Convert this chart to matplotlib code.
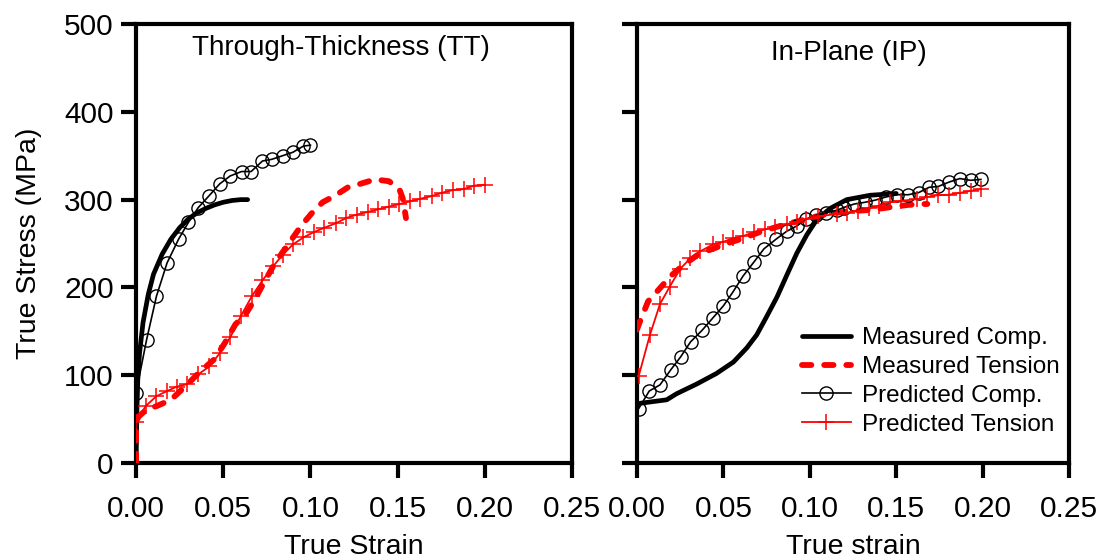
import matplotlib
matplotlib.use("Agg")
import matplotlib.pyplot as plt

plt.rcParams['font.family'] = ['Liberation Sans', 'DejaVu Sans']

# ---------------- Through-thickness (TT) ----------------
tt_meas_comp_strain = [0, 0.0005, 0.001, 0.002, 0.004, 0.007, 0.010, 0.015, 0.020,
                       0.025, 0.030, 0.035, 0.040, 0.045, 0.050, 0.055, 0.060, 0.064]
tt_meas_comp_stress = [0, 60, 95, 125, 160, 192, 215, 238, 255,
                       268, 278, 285, 290, 294, 297, 299, 300, 300]

tt_pred_comp_strain = [0, 0.006, 0.0117, 0.0178, 0.0244, 0.030, 0.0357, 0.0417, 0.048,
                       0.054, 0.0605, 0.066, 0.0725, 0.078, 0.084, 0.090, 0.096, 0.100]
tt_pred_comp_stress = [80, 140, 190, 228, 255, 274, 291, 304, 318,
                       327, 332, 332, 344, 346, 350, 354, 361, 362]

tt_meas_ten_strain = [0, 0, 0.001, 0.006, 0.012, 0.020, 0.0286, 0.0367, 0.0448, 0.051,
                      0.057, 0.063, 0.068, 0.0735, 0.0786, 0.084, 0.089, 0.095, 0.101,
                      0.107, 0.1145, 0.1215, 0.1286, 0.137, 0.145, 0.151, 0.153, 0.1548]
tt_meas_ten_stress = [0, 40, 52, 61, 65, 72, 88, 104, 118, 137,
                      158, 170, 186, 206, 224, 240, 254, 271, 285,
                      297, 305, 314, 318, 323, 321, 312, 301, 279]

tt_pred_ten_strain = [0, 0.0056, 0.0116, 0.0178, 0.0234, 0.0295, 0.0357, 0.042, 0.048,
                      0.054, 0.060, 0.0664, 0.0725, 0.0786, 0.084, 0.090, 0.096, 0.102,
                      0.108, 0.1145, 0.1205, 0.1267, 0.133, 0.139, 0.145, 0.151, 0.1573,
                      0.163, 0.1696, 0.1757, 0.182, 0.188, 0.194, 0.200]
tt_pred_ten_stress = [47, 65, 76, 82, 87, 90, 101, 110, 125,
                      143, 167, 190, 208, 224, 237, 249, 257, 263,
                      268, 273, 279, 283, 286, 289, 292, 295, 298,
                      301, 304, 308, 311, 312, 316, 317]

# ---------------- In-plane (IP) ----------------
ip_meas_comp_strain = [0, 0.0017, 0.0172, 0.023, 0.0346, 0.046, 0.0558, 0.0635, 0.0693,
                       0.0751, 0.081, 0.0867, 0.0925, 0.0983, 0.104, 0.1118, 0.1214,
                       0.135, 0.150]
ip_meas_comp_stress = [66, 68, 72, 79, 90, 102, 115, 131, 146,
                       167, 189, 214, 239, 260, 277, 290, 300,
                       305, 307]

ip_pred_comp_strain = [0.001, 0.0071, 0.0133, 0.0195, 0.0253, 0.031, 0.0376, 0.0438, 0.050,
                       0.0556, 0.0614, 0.0677, 0.0735, 0.0805, 0.0867, 0.0925, 0.098, 0.1035,
                       0.1096, 0.1157, 0.1196, 0.1257, 0.132, 0.138, 0.144, 0.1505, 0.157,
                       0.163, 0.169, 0.1743, 0.1806, 0.1868, 0.193, 0.199]
ip_pred_comp_stress = [62, 82, 89, 106, 121, 138, 151, 165, 179,
                       195, 213, 229, 244, 255, 264, 270, 278, 282,
                       285, 288, 291, 295, 297, 299.5, 303, 305.6, 305.6,
                       308, 314, 315, 320, 324, 322, 323]

ip_meas_ten_strain = [0, 0.0013, 0.0064, 0.0128, 0.0195, 0.0266, 0.0365, 0.044, 0.052,
                      0.0615, 0.071, 0.081, 0.0904, 0.104, 0.1135, 0.125, 0.133, 0.138,
                      0.1486, 0.157, 0.166, 0.168]
ip_meas_ten_stress = [152, 159, 184, 198, 213, 225, 239, 244, 250,
                      256, 263, 269, 274, 281, 284.7, 287, 288, 289,
                      292, 294, 295, 295]

ip_pred_ten_strain = [0.001, 0.0075, 0.0133, 0.019, 0.025, 0.0307, 0.0365, 0.044, 0.050,
                      0.0556, 0.0614, 0.068, 0.074, 0.080, 0.0867, 0.0925, 0.098, 0.105,
                      0.1155, 0.1216, 0.128, 0.134, 0.140, 0.1465, 0.1527, 0.162, 0.168,
                      0.174, 0.1805, 0.1868, 0.193, 0.199]
ip_pred_ten_stress = [99, 146, 181, 201, 221, 233, 241, 249, 252,
                      256, 258.5, 263, 266, 269, 272, 275, 278, 281,
                      283.6, 285, 287, 290, 293, 297, 298.6, 300.5, 303,
                      305, 305.6, 307.7, 310, 312]

x_ticks = [0.00, 0.05, 0.10, 0.15, 0.20, 0.25]
y_ticks = [0, 100, 200, 300, 400, 500]

fig = plt.figure(figsize=(11.07, 5.59), dpi=100)
ax_tt = fig.add_axes([0.1229, 0.1717, 0.3938, 0.7853])
ax_ip = fig.add_axes([0.5754, 0.1717, 0.3903, 0.7853])

RED = '#ff0000'


def draw_curves(ax, mc_x, mc_y, mt_x, mt_y, pc_x, pc_y, pt_x, pt_y):
    ax.plot(mc_x, mc_y, color='black', lw=3.4, solid_capstyle='round',
            solid_joinstyle='round', label='Measured Comp.', zorder=3)
    ax.plot(mt_x, mt_y, color=RED, lw=4.2, dashes=(1.6, 2.2),
            dash_capstyle='round', label='Measured Tension', zorder=3)
    ax.plot(pc_x, pc_y, color='black', lw=1.2, marker='o', ms=9.5,
            mfc='none', mec='black', mew=1.0, label='Predicted Comp.', zorder=4)
    ax.plot(pt_x, pt_y, color=RED, lw=1.3, marker='+', ms=11,
            mec=RED, mew=1.1, label='Predicted Tension', zorder=4)


def style_axes(ax, show_ylabels):
    ax.set_xlim(0, 0.25)
    ax.set_ylim(0, 500)
    ax.set_xticks(x_ticks)
    ax.set_yticks(y_ticks)
    ax.set_xticklabels(['%.2f' % v for v in x_ticks])
    if not show_ylabels:
        ax.set_yticklabels([])
    for s in ax.spines.values():
        s.set_linewidth(3.0)
    ax.tick_params(direction='out', length=11, width=3.0, labelsize=21.5, pad=5)
    ax.tick_params(axis='x', pad=12)


draw_curves(ax_tt, tt_meas_comp_strain, tt_meas_comp_stress,
            tt_meas_ten_strain, tt_meas_ten_stress,
            tt_pred_comp_strain, tt_pred_comp_stress,
            tt_pred_ten_strain, tt_pred_ten_stress)
draw_curves(ax_ip, ip_meas_comp_strain, ip_meas_comp_stress,
            ip_meas_ten_strain, ip_meas_ten_stress,
            ip_pred_comp_strain, ip_pred_comp_stress,
            ip_pred_ten_strain, ip_pred_ten_stress)

style_axes(ax_tt, True)
style_axes(ax_ip, False)

ax_tt.set_xlabel('True Strain', fontsize=20.5, labelpad=8)
ax_ip.set_xlabel('True strain', fontsize=20.5, labelpad=8)
ax_tt.set_ylabel('True Stress (MPa)', fontsize=20.5, labelpad=16)

ax_tt.text(0.47, 0.945, 'Through-Thickness (TT)', transform=ax_tt.transAxes,
           ha='center', va='center', fontsize=20)
ax_ip.text(0.49, 0.935, 'In-Plane (IP)', transform=ax_ip.transAxes,
           ha='center', va='center', fontsize=20)

ax_ip.legend(loc='lower right', bbox_to_anchor=(1.0, 0.04), frameon=False,
             fontsize=17.5, handlelength=2.0, handletextpad=0.45,
             labelspacing=0.28, borderaxespad=0.0)

fig.savefig('out.png', dpi=100)
